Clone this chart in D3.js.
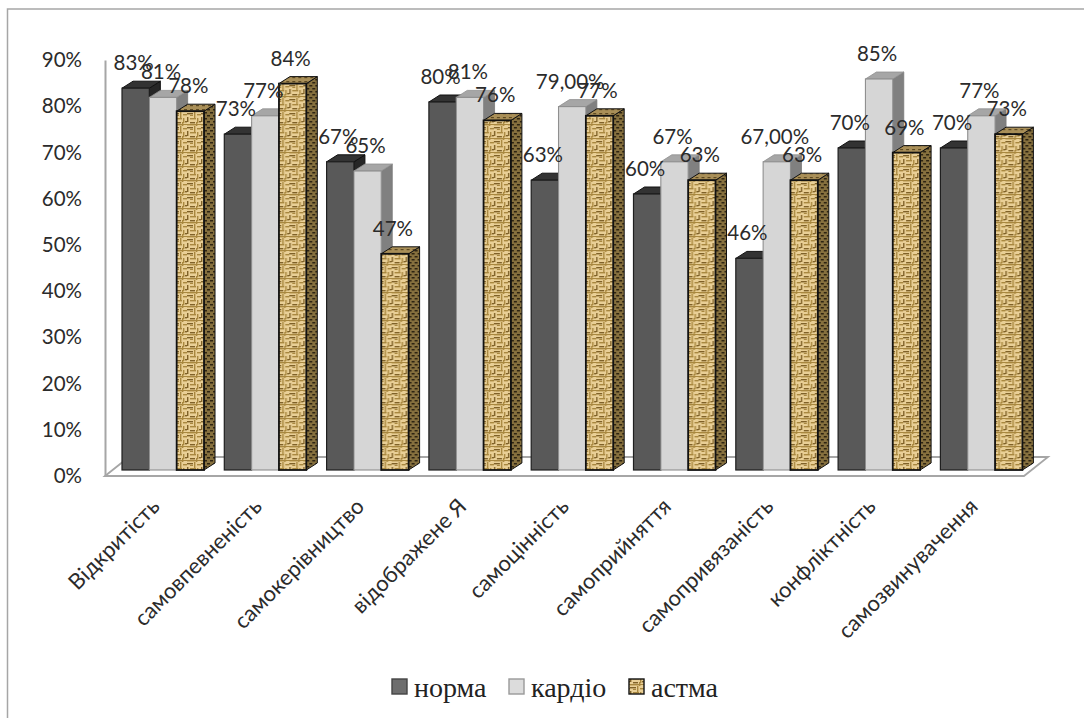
<!DOCTYPE html>
<html><head><meta charset="utf-8">
<script src="https://cdn.jsdelivr.net/npm/d3@7/dist/d3.min.js"></script>
<style>html,body{margin:0;background:#fff}svg{display:block}</style></head>
<body><div id="chart"></div>
<script>
const categories = ["Відкритість","самовпевненість","самокерівництво","відображене Я","самоцінність","самоприйняття","самопривязаність","конфліктність","самозвинувачення"];
const seriesNames = ["норма","кардіо","астма"];
const norma  = [83,73,67,80,63,60,46,70,70];
const kardio = [81,77,65,81,79,67,67,85,77];
const astma  = [78,84,47,76,77,63,63,69,73];
const normaLabels  = ["83%","73%","67%","80%","63%","60%","46%","70%","70%"];
const kardioLabels = ["81%","77%","65%","81%","79,00%","67%","67,00%","85%","77%"];
const astmaLabels  = ["78%","84%","47%","76%","77%","63%","63%","69%","73%"];
const yTicks = [0,10,20,30,40,50,60,70,80,90];

const W = 1084, H = 718;
const depthX = 11, depthY = 7;
const svg = d3.select("#chart").append("svg").attr("width",W).attr("height",H);

// Burlap-like fill built from short tan dashes
const defs = svg.append("defs");
const weave = defs.append("pattern").attr("id","weave").attr("patternUnits","userSpaceOnUse").attr("width",14).attr("height",14);
weave.append("rect").attr("width",14).attr("height",14).attr("fill","#e9cf96");
[[0,1,6,1.4],[7,0,1.4,6],[10,2,4,1.4],[0,5,1.4,5],[3,6,6,1.4],[10,6,1.4,5],[3,10,5,1.4],[0,12,9,1.4],[9,10,1.4,4],[12,9,2,1.4],[3,3,3,1],[10,12,4,1]].forEach((d,i)=>{
  weave.append("rect").attr("x",d[0]).attr("y",d[1]).attr("width",d[2]).attr("height",d[3]).attr("fill",i%3==0?"#7f6128":"#a8873f");
});
const weaveDark = defs.append("pattern").attr("id","weaveDark").attr("patternUnits","userSpaceOnUse").attr("width",6).attr("height",6);
weaveDark.append("rect").attr("width",6).attr("height",6).attr("fill","#86703e");
weaveDark.append("rect").attr("x",0).attr("y",1).attr("width",3).attr("height",1.5).attr("fill","#2e2412");
weaveDark.append("rect").attr("x",3).attr("y",4).attr("width",3).attr("height",1.5).attr("fill","#2e2412");
const weaveTop = defs.append("pattern").attr("id","weaveTop").attr("patternUnits","userSpaceOnUse").attr("width",6).attr("height",4);
weaveTop.append("rect").attr("width",6).attr("height",4).attr("fill","#a98f58");
weaveTop.append("rect").attr("x",1).attr("y",1).attr("width",3).attr("height",1.2).attr("fill","#5e4a22");

const styles = [
  {front:"#595959",top:"#333333",side:"#262626",stroke:"#1f1f1f",width:1.2},
  {front:"#d6d6d6",top:"#a6a6a6",side:"#808080",stroke:"#8f8f8f",width:1.1},
  {front:"url(#weave)",top:"url(#weaveTop)",side:"url(#weaveDark)",stroke:"#111111",width:1.8}
];

// Outer frame
svg.append("path").attr("d",`M7.5,${H} V9 H${W}`).attr("fill","none").attr("stroke","#a6a6a6").attr("stroke-width",1.5);

const groupStep = 102.3;
const x0 = d3.scaleBand().domain(categories).range([117,117+groupStep*categories.length]);
const x1 = d3.scaleBand().domain(seriesNames).range([5,5+82]);
const y = d3.scaleLinear().domain([0,100]).range([470,10]);
const axisY = d3.scaleLinear().domain([0,90]).range([476,60]);

// Floor of the plot
const floorBack = 457;
svg.append("path")
  .attr("d",`M105,${axisY(0)} L129,${floorBack} H1048 L1024,${axisY(0)} Z`)
  .attr("fill","#fff").attr("stroke","#a6a6a6").attr("stroke-width",1.8);

// Value axis
const yAxis = svg.append("g").attr("transform","translate(105,0)")
  .call(d3.axisLeft(axisY).tickValues(yTicks).tickSize(0).tickPadding(22).tickFormat(d=>d+"%"));
yAxis.select(".domain").attr("stroke","#a6a6a6").attr("stroke-width",2);
yAxis.selectAll("text").attr("font-family","Lato, 'Open Sans', sans-serif").attr("font-size",20.5).attr("fill","#2b2b2b");
yAxis.selectAll("text").attr("text-anchor","end").attr("x",-23);

// Columns, one group per category, painted left to right
const seriesData = [norma,kardio,astma];
const labelData = [normaLabels,kardioLabels,astmaLabels];
const chartG = svg.append("g");
categories.forEach((cat,c)=>{
  const g = chartG.append("g").attr("transform",`translate(${x0(cat)},0)`);
  seriesNames.forEach((name,s)=>{
    const v = seriesData[s][c], st = styles[s];
    const l = x1(name), r = l + x1.bandwidth(), t = y(v), b = y(0);
    const bar = g.append("g");
    bar.append("path").attr("d",`M${r},${b} L${r+depthX},${b-depthY} V${t-depthY} L${r},${t} Z`)
      .attr("fill",st.side).attr("stroke",s==1?"#777":"#111").attr("stroke-width",s==1?0.8:1);
    bar.append("path").attr("d",`M${l},${t} L${l+depthX},${t-depthY} H${r+depthX} L${r},${t} Z`)
      .attr("fill",st.top).attr("stroke",s==1?"#8f8f8f":"#111").attr("stroke-width",s==1?0.8:1);
    bar.append("rect").attr("x",l).attr("y",t).attr("width",r-l).attr("height",b-t)
      .attr("fill",st.front).attr("stroke",st.stroke).attr("stroke-width",st.width);
  });
});

// Value labels sit above everything
categories.forEach((cat,c)=>{
  seriesNames.forEach((name,s)=>{
    svg.append("text")
      .attr("x",x0(cat)+x1(name)+x1.bandwidth()/2-2)
      .attr("y",y(seriesData[s][c])-18)
      .attr("text-anchor","middle")
      .attr("font-family","Lato, 'Open Sans', sans-serif").attr("font-size",20.5).attr("fill","#2b2b2b")
      .text(labelData[s][c]);
  });
});

// Category labels, rotated
categories.forEach(cat=>{
  const px = x0(cat)+x1.range()[0]+28, py = 497;
  svg.append("text")
    .attr("transform",`translate(${px},${py}) rotate(-45)`)
    .attr("text-anchor","end").attr("dy","0.7em")
    .attr("font-family","Lato, 'Open Sans', sans-serif").attr("font-size",22).attr("fill","#2b2b2b")
    .text(cat);
});

// Legend
const legendX = [392,509,629], legendTextX = [414,531,651];
seriesNames.forEach((name,s)=>{
  svg.append("rect").attr("x",legendX[s]).attr("y",679).attr("width",15).attr("height",15)
    .attr("fill",s==0?"#6e6e6e":s==1?"#dcdcdc":"url(#weave)")
    .attr("stroke",s==0?"#444":s==1?"#999":"#111").attr("stroke-width",1.4);
  svg.append("text").attr("x",legendTextX[s]).attr("y",697)
    .attr("font-family","'Liberation Serif', serif").attr("font-size",28).attr("fill","#222").text(name);
});
</script></body></html>
